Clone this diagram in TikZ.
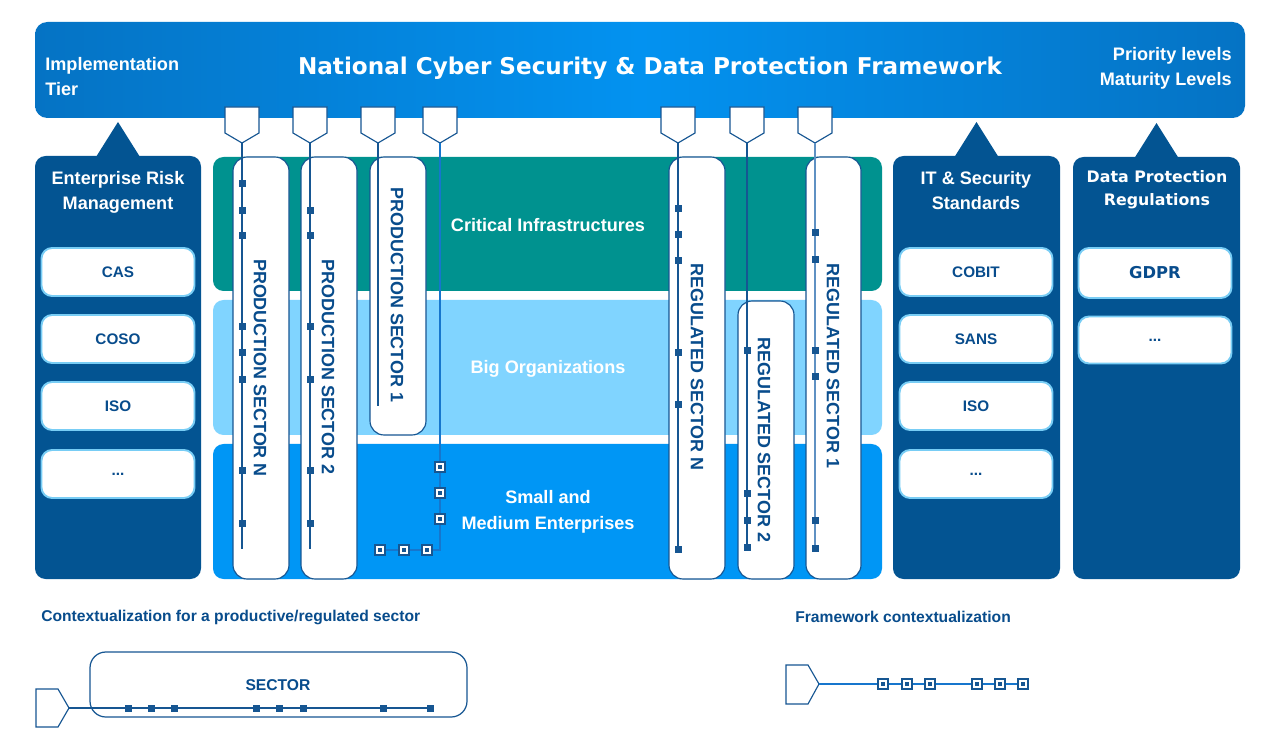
\documentclass[tikz,border=0pt]{standalone}
\usepackage{fontspec}
\setmainfont{Liberation Sans}
\newfontfamily\dvfont{DejaVu Sans}
\usetikzlibrary{calc}
\newlength\pxl
\setlength\pxl{0.02cm}
\newcommand\mydots{...}
\definecolor{cDark}{RGB}{3,84,146}
\definecolor{cBanL}{RGB}{8,84,152}
\definecolor{cBanM}{RGB}{3,146,240}
\definecolor{cTeal}{RGB}{0,146,143}
\definecolor{cLight}{RGB}{128,212,255}
\definecolor{cBright}{RGB}{0,150,245}
\definecolor{cLine}{RGB}{22,86,146}
\definecolor{cLineL}{RGB}{95,145,195}
\definecolor{cText}{RGB}{8,76,140}
\definecolor{cBoxB}{RGB}{120,205,245}
\definecolor{cThick}{RGB}{22,118,205}
\pgfdeclarehorizontalshading{bannershade}{100bp}{color(0bp)=(cBanL); color(50bp)=(cBanM); color(100bp)=(cBanL)}
\newcommand\dtag[2]{%
  \draw[tagst] (#1-17,107) -- (#1+17,107) -- (#1+17,133) -- (#1,143) -- (#1-17,133) -- cycle;
  \coordinate (#2) at (#1,143);}
\begin{document}
\begin{tikzpicture}[x=0.02cm,y=-0.02cm,
  sz/.style 2 args={minimum width=#1*\pxl, minimum height=#2*\pxl},
  nwbox/.style={anchor=north west, inner sep=0pt, outer sep=0pt},
  colbox/.style={nwbox, fill=cDark, rounded corners=6pt},
  bannerbox/.style={nwbox, shading=bannershade, rounded corners=7pt},
  layer/.style={nwbox, rounded corners=6pt},
  pillar/.style={nwbox, fill=white, draw=cLine, line width=0.65pt, rounded corners=8pt},
  wtxt/.style={text=white, font=\fontsize{10.3}{14.2}\selectfont\bfseries, align=center, inner sep=0pt},
  ptxt/.style={text=cText, font=\fontsize{10.2}{12}\selectfont\bfseries, rotate=-90, inner sep=0pt},
  ibox/.style={fill=white, draw=cBoxB, line width=1.1pt, rounded corners=6pt, sz={153}{48}, text=cText, font=\fontsize{8.7}{10}\selectfont\bfseries, inner sep=0pt},
  tagst/.style={fill=white, draw=cLine, line width=0.65pt, line join=miter},
  pline/.style={draw=cLine, line width=0.6pt},
  tline/.style={draw=cThick, line width=1.3pt},
  sq/.style={fill=cLine, sz={7}{7}, inner sep=0pt, outer sep=0pt},
  hsq/.style={fill=white, draw=cLine, line width=0.8pt, sz={10}{10}, inner sep=0pt, outer sep=0pt,
    path picture={\fill[cLine] ($(path picture bounding box.center)+(-1.7,-1.7)$) rectangle ($(path picture bounding box.center)+(1.7,1.7)$);}},
  btxt/.style={text=cText, font=\fontsize{8.9}{10}\selectfont\bfseries, inner sep=0pt}
]
\useasboundingbox[fill=white] (0,0) rectangle (1265,746);

% side columns
\node[colbox, sz={166}{423}] (erm) at (35,156) {};
\node[colbox, sz={167}{423}] (its) at (893,156) {};
\node[colbox, sz={167}{422}] (dpr) at (1073,157) {};

% banner
\node[bannerbox, sz={1210}{96}] (banner) at (35,22) {};
\node[wtxt, align=left, anchor=west] (tier) at (45,77) {Implementation\\Tier};
\node[wtxt, align=right, anchor=east] (prio) at (1232,68) {Priority levels\\Maturity Levels};
\node[text=white, font=\dvfont\bfseries\fontsize{13.15}{15}\selectfont, inner sep=0pt] (title) at (650,68) {National Cyber Security \& Data Protection Framework};

% pointers from columns to banner
\foreach \c in {erm,its,dpr}
  \fill[cDark] ($(\c.north)+(-22,1)$) -- ($(\c.north)+(0,-34)$) -- ($(\c.north)+(22,1)$) -- cycle;

% column titles
\node[wtxt] (ermt) at (118,192) {Enterprise Risk\\Management};
\node[wtxt] (itst) at (976,191) {IT \& Security\\Standards};
\node[wtxt, font=\dvfont\bfseries\fontsize{9}{13}\selectfont] (dprt) at (1157,190) {Data Protection\\Regulations};

% inner boxes
\foreach \y/\t [count=\i] in {272/CAS,339/COSO,406/ISO,474/\mydots}
  \node[ibox] (erm\i) at (118,\y) {\t};
\foreach \y/\t [count=\i] in {272/COBIT,339/SANS,406/ISO,474/\mydots}
  \node[ibox] (its\i) at (976,\y) {\t};
\node[ibox, sz={153}{50}, font=\dvfont\bfseries\fontsize{9.3}{11}\selectfont] (dpr1) at (1155,273) {GDPR};
\node[ibox, sz={153}{47}] (dpr2) at (1155,340) {\mydots};

% layers
\node[layer, fill=cTeal, sz={669}{134}] (crit) at (213,157) {};
\node[layer, fill=cLight, sz={669}{135}] (big) at (213,300) {};
\node[layer, fill=cBright, sz={669}{135}] (sme) at (213,444) {};
\node[wtxt] (critt) at (548,225) {Critical Infrastructures};
\node[wtxt] (bigt) at (548,369) {Big Organizations};
\node[wtxt, font=\fontsize{10.3}{14.7}\selectfont\bfseries] (smet) at (548,512) {Small and\\Medium Enterprises};

% pillars
\node[pillar, sz={56}{422}] (pN) at (233,157) {};
\node[pillar, sz={56}{422}] (p2) at (301,157) {};
\node[pillar, sz={56}{278}] (p1) at (370,157) {};
\node[pillar, sz={56}{422}] (rN) at (669,157) {};
\node[pillar, sz={56}{278}] (r2) at (738,301) {};
\node[pillar, sz={55}{422}] (r1) at (806,157) {};
\node[ptxt] (pNt) at (260,368) {PRODUCTION SECTOR N};
\node[ptxt] (p2t) at (328,367) {PRODUCTION SECTOR 2};
\node[ptxt] (p1t) at (397,295) {PRODUCTION SECTOR 1};
\node[ptxt] (rNt) at (697,367) {REGULATED SECTOR N};
\node[ptxt] (r2t) at (764,440) {REGULATED SECTOR 2};
\node[ptxt] (r1t) at (833,366) {REGULATED SECTOR 1};

% tags
\dtag{242}{tPN}
\dtag{310}{tP2}
\dtag{378}{tP1}
\dtag{440}{tS}
\dtag{678}{tRN}
\dtag{747}{tR2}
\dtag{815}{tR1}

% lines
\coordinate (ePN) at (242,549);
\coordinate (eP2) at (310,549);
\coordinate (eP1) at (378,406);
\coordinate (bS) at (440,550);
\coordinate (eS) at (380,550);
\coordinate (eRN) at (678,549);
\coordinate (eR2) at (747,547);
\coordinate (eR1) at (815,548);
\draw[pline] (tPN) -- (ePN);
\draw[pline] (tP2) -- (eP2);
\draw[pline] (tP1) -- (eP1);
\draw[tline] (tS) -- (bS) -- (eS);
\draw[pline] (tRN) -- (eRN);
\draw[pline] (tR2) -- (eR2);
\draw[pline, draw=cLineL] (tR1) -- (eR1);

\foreach \y [count=\i] in {184,211,236,327,353,380,471,524}
  \node[sq] (sqPN\i) at (242,\y) {};
\foreach \y [count=\i] in {211,236,327,380,471,524}
  \node[sq] (sqP2\i) at (310,\y) {};
\foreach \y [count=\i] in {209,235,261,353,405,549}
  \node[sq] (sqRN\i) at (678,\y) {};
\foreach \y [count=\i] in {351,494,521,547}
  \node[sq] (sqR2\i) at (747,\y) {};
\foreach \y [count=\i] in {233,260,351,377,521,548}
  \node[sq] (sqR1\i) at (815,\y) {};
\foreach \p [count=\i] in {{(440,467)},{(440,493)},{(440,519)},{(427,550)},{(404,550)},{(380,550)}}
  \node[hsq] (hsS\i) at \p {};

% legend
\node[btxt, anchor=west] (cap1) at (41,617) {Contextualization for a productive/regulated sector};
\node[btxt, anchor=west] (cap2) at (795,617) {Framework contextualization};

\node[nwbox, draw=cLine, line width=0.7pt, rounded corners=9pt, sz={377}{65}] (secbox) at (90,652) {};
\node[btxt] (sect) at (278,685) {SECTOR};
\draw[tagst] (36,689) -- (58,689) -- (69,708) -- (58,727) -- (36,727) -- cycle;
\coordinate (lt1) at (69,708);
\coordinate (le1) at (430,708);
\draw[pline] (lt1) -- (le1);
\foreach \x [count=\i] in {128,151,174,256,279,303,383,430}
  \node[sq] (lsq\i) at (\x,708) {};

\draw[tagst] (786,665) -- (808,665) -- (819,684) -- (808,704) -- (786,704) -- cycle;
\coordinate (lt2) at (819,684);
\coordinate (le2) at (1023,684);
\draw[tline] (lt2) -- (le2);
\foreach \x [count=\i] in {883,907,930,977,1000,1023}
  \node[hsq] (lhs\i) at (\x,684) {};
\end{tikzpicture}
\end{document}
